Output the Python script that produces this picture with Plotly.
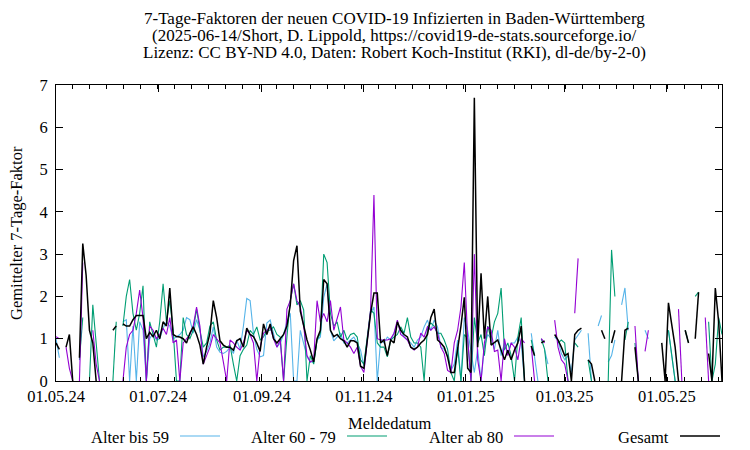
import pandas as pd
import plotly.graph_objects as go

N = None
start_date = "2024-05-01"
step = "2D"

gesamt = [
    0.9, 0.75, N, 0.8, 1.1, 0, N, 0.55, 3.25, 2.5,
    1.2, 0.9, 0, N, N, N, N, 1.2, 1.3, N,
    1.35, 1.3, 1.3, 1.45, 1.55, 1.55, 1.55, 1.0, 1.15, 1.05,
    1.2, 1.0, 1.4, 1.3, 2.2, 1.1, 1.05, 1.04, 1.0, 0.9,
    1.13, 1.28, 1.1, 0.85, 0.4, 0.8, 1.13, 1.9, 1.5, 0.95,
    0.85, 0.8, 0.8, 0.73, 0.95, 1.0, 0.8, 1.25, 1.1, 1.05,
    0.9, 0.7, 1.35, 1.1, 1.35, 1.0, 0.9, 1.0, 1.1, 1.3,
    1.8, 2.85, 3.2, 1.65, 1.3, 0.97, 0.73, 0.45, 1.0, 1.2,
    2.4, 2.3, 1.2, 1.05, 1.1, 1.0, 0.95, 0.8, 0.95, 0.95,
    0.9, 0.35, 0.3, 0.97, 1.6, 2.08, 2.08, 0.9, 0.97, 0.6,
    0.97, 0.9, 1.4, 1.2, 1.1, 1.04, 0.8, 0.75, 0.8, 0.9,
    0.97, 1.1, 1.5, 1.7, 0.97, 0.9, 0.8, 0.57, 0.2, 0.2,
    0.7, 1.3, 1.98, 0.3, 0.2, 6.7, 0.8, 2.55, 1.0, 2.0,
    0.85, 0.9, 0.97, 0.73, 0.5, 0.73, 0.5, 0.73, 0.9, 1.3,
    0, N, 0.83, 0.6, N, 0.9, 0.95, N, N, 1.1,
    0.97, 0.8, 0.6, 0.65, 0, 1.1, 1.2, 1.25, N, 0.5,
    0.4, 0, N, 1.2, 1.0, N, 0.9, 1.2, N, 0,
    1.2, 1.25, N, 0.8, 0, N, N, N, N, N,
    N, 0.9, 0, 1.85, 1.3, 0.8, 0, N, 1.2, 0.9,
    N, 1.0, 2.1, N, N, 0.65, 0, 2.2, 1.4, 0,
]

alter_bis_59 = [
    1.0, 0.55, N, N, N, N, N, N, N, N,
    N, N, N, N, N, N, N, N, N, N,
    1.4, 1.45, 0, 1.3, 0, 1.4, 1.2, 0, 1.0, 1.13,
    0.97, 1.0, 1.25, 1.4, 1.3, 1.0, 1.04, 1.1, 1.2, 1.5,
    1.45, 1.13, 1.45, 1.2, 0.57, 0.7, 0.9, 1.28, 0.8, 0.68,
    0.65, 0.7, 0.8, 0.65, 0.97, 0.75, 1.3, 1.95, 1.9, 1.13,
    0.75, 0.57, 0.6, 1.37, 1.44, 1.1, 0.8, 0.9, 1.1, 1.4,
    1.6, 0, 0, 1.2, 0.9, 0.57, 0.45, 0.45, 0.97, 1.04,
    1.98, 2.3, 1.2, 0.95, 1.04, 1.13, 0.9, 0.9, 0.97, 1.04,
    0.9, 0.73, 0.35, 1.04, 1.6, 1.75, 0, 0.97, 0.9, 1.04,
    0.97, 1.13, 1.37, 1.2, 1.04, 0.97, 0.9, 0.8, 0.97, 1.04,
    1.28, 1.44, 1.2, 1.44, 1.28, 0.8, 0.75, 0.6, 0.25, 0.4,
    0.97, 0, 1.5, 1.2, 0.75, 0.2, 0.75, 0, 0.8, 1.1,
    1.0, 0.75, 1.2, 0.6, 0.9, 0.65, 0.9, 0.9, 1.04, 0.9,
    0, N, 1.13, 0.57, 0, N, 0.73, 0.4, N, 1.04,
    0.97, 0.65, 0.5, 0.6, 0.2, 0.97, 1.1, 1.2, N, 1.13,
    0, N, 1.3, 1.55, N, 0.45, 0.6, 0.97, N, 1.8,
    2.2, 1.2, N, N, N, N, 1.2, 1.0, N, N,
    N, N, N, 1.2, 0.65, 0, N, N, N, N,
    N, N, N, N, N, N, N, N, N, N,
]

alter_60_79 = [
    N, N, N, N, N, N, N, 0.5, 1.5, N,
    0, 1.8, 0.9, 0, N, N, N, 0, 1.4, N,
    1.3, 2.0, 2.4, 1.6, 1.2, 1.6, 2.25, 0, 1.4, 1.1,
    0.8, 1.4, 2.3, 1.4, 1.9, 1.2, 0, 0, 1.5, 1.1,
    1.0, 1.2, 1.7, 1.2, 0.8, 0.9, 1.3, 1.4, 0.97, 0.73,
    0.8, 0.8, 0.85, 0.4, 0, 0.6, 0.75, 0.85, 1.2, 1.1,
    1.28, 0.97, 1.04, 1.2, 1.2, 1.28, 1.1, 1.04, 0, 1.04,
    1.9, 2.3, 1.8, 1.9, 1.68, 0, 0.6, 0.4, 0.97, 1.13,
    3.0, 2.8, 1.6, 1.3, 1.4, 1.04, 1.2, 0.97, 1.1, 1.13,
    1.04, 0.5, 0.4, 1.04, 1.68, 1.6, 0.9, 0.8, 0.8, 0.57,
    0.97, 1.04, 1.1, 1.28, 1.13, 1.5, 1.04, 0.9, 0.9, 0.8,
    0, 1.28, 1.37, 1.3, 1.13, 1.13, 0.97, 0.75, 0.2, 0,
    0.8, 0, 1.1, 1.0, 0, 1.5, 0.9, 1.1, 0.6, 1.3,
    1.0, 1.4, 1.6, 2.2, 0.73, 0.9, 0.6, 0, 1.04, 1.5,
    0, N, 0.97, 0.6, N, 1.0, 0.75, 0, N, N,
    0.9, 0.97, 0.9, 0, N, 0.9, 0.8, N, N, 0.5,
    0, N, N, N, N, 0, 3.1, 2.0, N, N,
    0.97, 1.4, N, 0.9, 0, N, N, N, N, N,
    N, N, N, 1.2, 0.6, 0, N, N, 1.2, 0.9,
    N, 2.0, 2.1, N, N, 1.4, 0, 0.4, 1.5, 1.1,
]

alter_ab_80 = [
    1.05, 1.0, N, 0.8, 0.3, 0, N, 0, 2.8, N,
    N, 1.2, 0.4, 0, N, N, N, N, N, N,
    0, 0.8, 1.1, 1.2, 1.6, 2.15, 1.5, 0, 1.3, 1.2,
    1.0, 1.1, 1.25, 1.1, 1.5, 0.9, 0.97, 0, 0.9, 1.0,
    1.1, 1.3, 1.75, 1.3, 0.4, 0.6, 0.8, 1.1, 1.0, 0.9,
    0.45, 0, 0.97, 0.9, 0.8, 0.73, 0.9, 1.2, 1.1, 0.9,
    0, 0.8, 1.13, 1.2, 1.28, 1.0, 0.8, 0.97, 0, 1.7,
    1.9, 2.3, 1.9, 1.75, 1.3, 0.6, 0.45, 0.5, 1.9, 1.4,
    1.6, 1.4, 1.9, 1.2, 1.5, 1.75, 0.97, 0.9, 0.8, 0.65,
    0.8, 0.35, 0.2, 0.97, 1.68, 4.4, 1.0, 0.97, 0.97, 0.97,
    1.0, 1.13, 1.44, 1.1, 1.04, 0.97, 0.8, 0.73, 0.8, 1.13,
    1.04, 1.28, 1.2, 1.28, 1.13, 0.8, 0.65, 0.25, 0.2, 0.9,
    1.2, 1.75, 2.8, 1.0, 0, 3.0, 0.5, 0, 0.9, 1.28,
    1.2, 0.7, 0.73, 0, 1.0, 0.6, 0.9, 0.8, 0.5, 1.0,
    0.9, N, 0.83, 0, N, 1.0, 0.9, N, N, 1.44,
    0.8, 0.5, 0.4, 0, N, 1.6, 2.9, N, N, N,
    N, N, N, N, N, N, N, N, N, N,
    N, N, N, 1.3, 0, N, 0.7, 1.2, N, N,
    N, N, N, N, N, N, 1.7, 0, N, N,
    N, N, N, N, 1.5, 0, N, N, N, N,
]

series_names = ["Alter bis 59", "Alter 60 - 79", "Alter ab 80", "Gesamt"]
series_values = [alter_bis_59, alter_60_79, alter_ab_80, gesamt]
series_colors = ["#56b4e9", "#009e73", "#9400d3", "#000000"]
series_widths = [1.1, 1.1, 1.1, 1.5]

title_lines = [
    "7-Tage-Faktoren der neuen COVID-19 Infizierten in Baden-Württemberg",
    "(2025-06-14/Short, D. Lippold, https://covid19-de-stats.sourceforge.io/",
    "Lizenz: CC BY-ND 4.0, Daten: Robert Koch-Institut (RKI), dl-de/by-2-0)",
]

FONT = "Liberation Serif"
FS = 16.5
FS_TITLE = 17
dates = pd.date_range(start_date, periods=len(gesamt), freq=step)

fig = go.Figure()
for name, vals, color, w in zip(series_names, series_values, series_colors, series_widths):
    fig.add_trace(go.Scatter(x=dates, y=vals, mode="lines", name=name,
                             line=dict(color=color, width=w), connectgaps=False,
                             showlegend=False, hoverinfo="skip"))

# the page body has an 8px margin, so the figure starts at (8, 8) in the window
OFF = 8
W, H = 742, 442
L = 56 - OFF
T = 85 - OFF
R = W - (722 - OFF)
B = H - (381 - OFF)
pw, ph = W - L - R, H - T - B


def px_x(p):
    return (p - OFF - L) / pw


def px_y(p):
    return (H - B - (p - OFF)) / ph


annotations = []
for i, line in enumerate(title_lines):
    annotations.append(dict(text=line, xref="paper", yref="paper", x=px_x(394), y=px_y(18 + 17 * i),
                            xanchor="center", yanchor="middle", showarrow=False,
                            font=dict(family=FONT, size=FS_TITLE, color="black")))
annotations.append(dict(text="Meldedatum", xref="paper", yref="paper", x=px_x(390), y=px_y(423),
                        xanchor="center", yanchor="middle", showarrow=False,
                        font=dict(family=FONT, size=FS, color="black")))
annotations.append(dict(text="Gemittelter 7-Tage-Faktor", xref="paper", yref="paper", x=px_x(16), y=0.5,
                        xanchor="center", yanchor="middle", textangle=-90, showarrow=False,
                        font=dict(family=FONT, size=FS, color="black")))

shapes = []
legend_text_end = [171, 338, 505, 671]
for name, color, w, xe in zip(series_names, series_colors, series_widths, legend_text_end):
    annotations.append(dict(text=name, xref="paper", yref="paper", x=px_x(xe), y=px_y(437),
                            xanchor="right", yanchor="middle", showarrow=False,
                            font=dict(family=FONT, size=FS, color="black")))
    shapes.append(dict(type="line", xref="paper", yref="paper", x0=px_x(xe + 9), x1=px_x(xe + 49),
                       y0=px_y(436), y1=px_y(436), line=dict(color=color, width=w)))

fig.update_layout(
    width=W, height=H,
    margin=dict(l=L, r=R, t=T, b=B, pad=0),
    paper_bgcolor="white", plot_bgcolor="white",
    showlegend=False,
    annotations=annotations,
    shapes=shapes,
    font=dict(family=FONT, size=FS, color="black"),
)
fig.update_xaxes(
    type="date", range=["2024-05-01", "2025-06-03"],
    tickmode="linear", tick0="2024-05-01", dtick="M2", tickformat="%d.%m.%y",
    ticks="inside", ticklen=7, tickwidth=1, tickcolor="black",
    showline=True, linecolor="black", linewidth=1, mirror="ticks",
    showgrid=False, zeroline=False,
    tickfont=dict(family=FONT, size=FS, color="black"),
    minor=dict(ticks="inside", ticklen=4, tickwidth=1, tickcolor="black",
               tick0="2024-05-01", dtick=86400000 * 10.15, showgrid=False),
)
fig.update_yaxes(
    range=[0, 7], tickmode="linear", tick0=0, dtick=1,
    ticks="inside", ticklen=7, tickwidth=1, tickcolor="black",
    showline=True, linecolor="black", linewidth=1, mirror="ticks",
    showgrid=False, zeroline=False, ticklabelstandoff=4,
    tickfont=dict(family=FONT, size=FS, color="black"),
)

fig.write_html("out.html")
